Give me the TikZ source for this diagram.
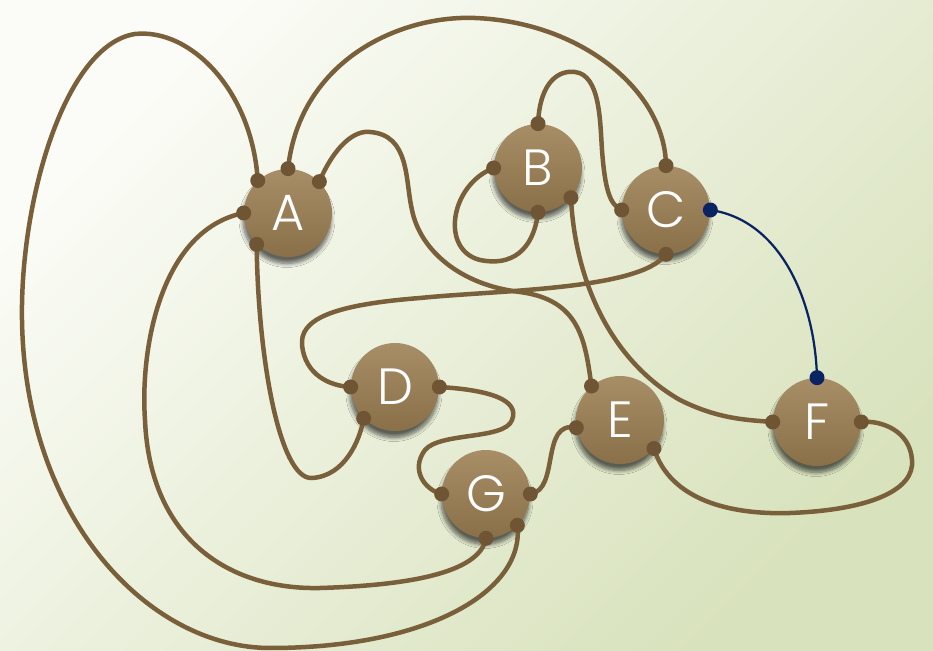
\documentclass[tikz,border=0pt]{standalone}
\usepackage{fontspec}
\setmainfont{Poppins Light}
\usetikzlibrary{shadows.blur}
\definecolor{bgpale}{HTML}{FBFCF7}
\definecolor{bggreen}{HTML}{D8E2BC}
\definecolor{nodetop}{HTML}{A88E66}
\definecolor{nodebottom}{HTML}{8A7049}
\definecolor{wirebrown}{HTML}{7A5F3B}
\definecolor{portbrown}{HTML}{6F5534}
\definecolor{navy}{HTML}{0A2363}

\begin{document}
\begin{tikzpicture}[x=0.02cm, y=-0.02cm,
    station/.style={circle, minimum size=1.76cm, inner sep=0pt, top color=nodetop, bottom color=nodebottom,
      text=white, font=\fontsize{29}{32}\selectfont,
      blur shadow={shadow xshift=-0.2mm, shadow yshift=-1.3mm, shadow blur radius=0.8mm, shadow blur steps=8, shadow opacity=60}},
    wire/.style={draw=wirebrown, line width=0.09cm},
    port/.style={fill=portbrown}]
  % backdrop
  \shade[top color=bgpale, bottom color=bggreen, shading angle=45] (0,0) rectangle (933,651);
  \useasboundingbox (0,0) rectangle (933,651);

  % stations
  \node[station] (A) at (288,213) {A};
  \node[station] (B) at (538,168) {B};
  \node[station] (C) at (666,210) {C};
  \node[station] (D) at (395,387) {D};
  \node[station] (E) at (620,420) {E};
  \node[station] (F) at (817,422) {F};
  \node[station] (G) at (486,494) {G};

  % wires
  \draw[wire] (A.133) .. controls (252,90) and (190,28) .. (135,34)
    .. controls (65,45) and (20,200) .. (22,320)
    .. controls (25,520) and (150,648) .. (270,648)
    .. controls (430,648) and (525,590) .. (G.315);
  \draw[wire] (A.90) .. controls (300,60) and (400,15) .. (475,18)
    .. controls (580,22) and (665,90) .. (C.90);
  \draw[wire] (A.45) .. controls (335,145) and (355,130) .. (370,132)
    .. controls (410,135) and (405,180) .. (412,210)
    .. controls (420,250) and (460,285) .. (520,292)
    .. controls (580,300) and (585,340) .. (E.130);
  \draw[wire] (A.180) .. controls (160,230) and (140,350) .. (145,420)
    .. controls (150,540) and (230,590) .. (320,588)
    .. controls (420,585) and (480,570) .. (G.270);
  \draw[wire] (A.225) .. controls (258,360) and (280,480) .. (312,478)
    .. controls (345,476) and (360,440) .. (D.225);
  \draw[wire] (B.90) .. controls (540,80) and (560,70) .. (575,72)
    .. controls (600,75) and (600,120) .. (602,150)
    .. controls (605,190) and (610,205) .. (C.180);
  \draw[wire] (B.180) .. controls (450,185) and (440,250) .. (480,260)
    .. controls (520,268) and (535,240) .. (B.270);
  \draw[wire] (B.318) .. controls (575,280) and (610,360) .. (680,400)
    .. controls (720,420) and (750,420) .. (F.180);
  \draw[wire] (C.270) .. controls (640,290) and (500,290) .. (420,298)
    .. controls (330,305) and (300,320) .. (302,345)
    .. controls (305,375) and (330,386) .. (D.180);
  \draw[wire] (D.0) .. controls (490,390) and (520,400) .. (512,420)
    .. controls (505,440) and (440,432) .. (425,450)
    .. controls (410,470) and (425,490) .. (G.180);
  \draw[wire] (E.190) .. controls (540,420) and (560,490) .. (G.0);
  \draw[wire] (E.320) .. controls (670,500) and (730,515) .. (790,513)
    .. controls (870,510) and (915,490) .. (912,460)
    .. controls (910,430) and (880,420) .. (F.0);
  \draw[navy, line width=0.045cm] (C.0) .. controls (780,220) and (815,300) .. (F.90);

  % port dots
  \foreach \p in {A.133, A.90, A.45, A.180, A.225, B.90, B.180, B.270, B.318,
                  C.90, C.180, C.270, D.180, D.0, D.225, E.130, E.190, E.320,
                  F.180, F.0, G.180, G.0, G.270, G.315}
    \fill[port] (\p) circle (0.15cm);
  \fill[navy] (C.0) circle (0.15cm);
  \fill[navy] (F.90) circle (0.15cm);
\end{tikzpicture}
\end{document}
